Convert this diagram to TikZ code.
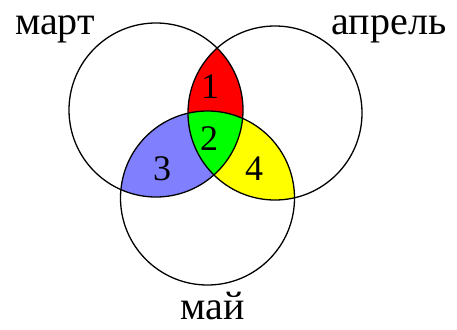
\documentclass[tikz,border=0pt]{standalone}
\usepackage{fontspec}
\setmainfont{Liberation Serif}
\definecolor{vred}{RGB}{255,0,0}
\definecolor{vgreen}{RGB}{0,255,0}
\definecolor{vblue}{RGB}{128,128,255}
\definecolor{vyellow}{RGB}{255,255,0}
\begin{document}
\begin{tikzpicture}[x=1pt,y=-1pt,
  setlabel/.style={font=\fontsize{40}{40}\selectfont, anchor=base, inner sep=0pt},
  numlabel/.style={font=\fontsize{36}{36}\selectfont, anchor=base, inner sep=0pt},
  ring/.style={draw=black, line width=1.3pt}]
\useasboundingbox (0,0) rectangle (457,329);
\fill[white] (0,0) rectangle (457,329);
\coordinate (A) at (156,110);
\coordinate (B) at (275,113);
\coordinate (C) at (207.5,198);
\def\rr{87}
% A and B: red
\begin{scope}
  \clip (A) circle[radius=\rr];
  \clip (B) circle[radius=\rr];
  \fill[vred] (0,0) rectangle (457,329);
\end{scope}
% A and C: blue
\begin{scope}
  \clip (A) circle[radius=\rr];
  \clip (C) circle[radius=\rr];
  \fill[vblue] (0,0) rectangle (457,329);
\end{scope}
% B and C: yellow
\begin{scope}
  \clip (B) circle[radius=\rr];
  \clip (C) circle[radius=\rr];
  \fill[vyellow] (0,0) rectangle (457,329);
\end{scope}
% all three: green
\begin{scope}
  \clip (A) circle[radius=\rr];
  \clip (B) circle[radius=\rr];
  \clip (C) circle[radius=\rr];
  \fill[vgreen] (0,0) rectangle (457,329);
\end{scope}
\draw[ring] (A) circle[radius=\rr];
\draw[ring] (B) circle[radius=\rr];
\draw[ring] (C) circle[radius=\rr];
\node[setlabel] (mart) at (55,35) {март};
\node[setlabel] (aprel) at (389,35) {апрель};
\node[setlabel] (mai) at (213,319) {май};
\node[numlabel] (n1) at (210,98) {1};
\node[numlabel] (n2) at (209,150) {2};
\node[numlabel] (n3) at (162,180) {3};
\node[numlabel] (n4) at (254,180) {4};
\end{tikzpicture}
\end{document}
